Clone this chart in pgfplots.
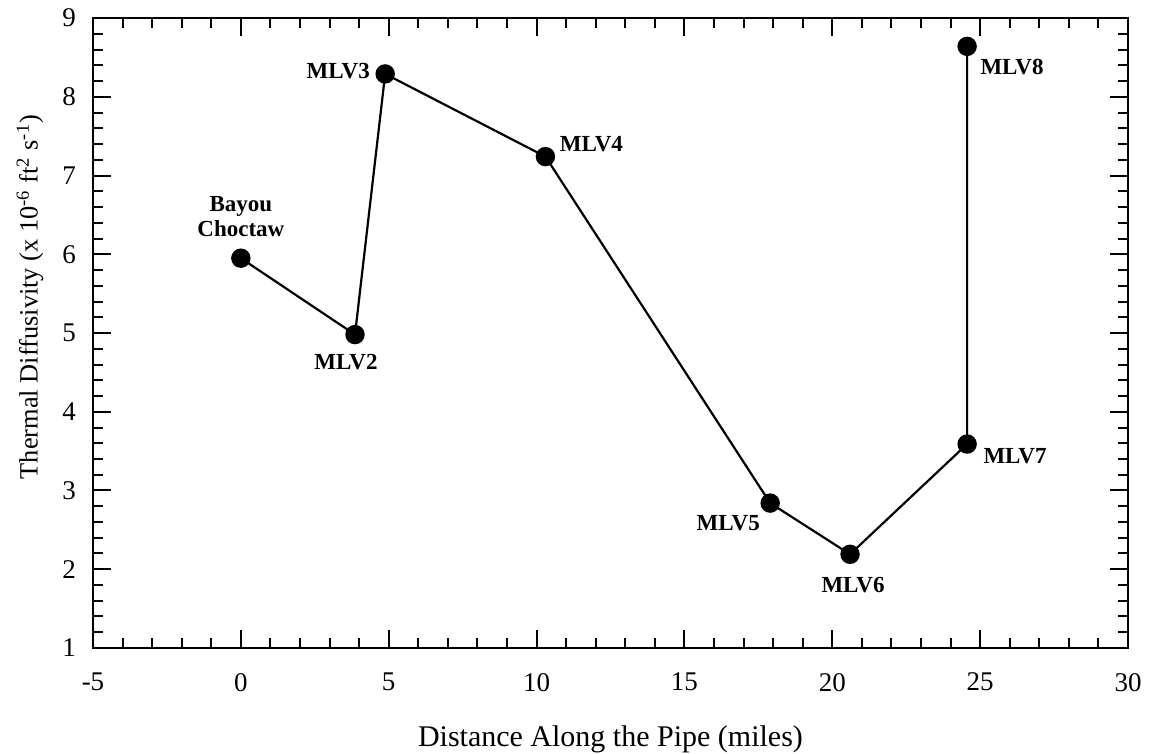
\documentclass[border=0pt]{standalone}
\usepackage{fontspec}
\setmainfont{Liberation Serif}
\usepackage{pgfplots}
\pgfplotsset{compat=1.18}
\begin{document}
\begin{tikzpicture}
\useasboundingbox (-46.5pt,-53pt) rectangle (529pt,324pt);
\begin{axis}[
  at={(0pt,0pt)}, anchor=south west,
  scale only axis, width=517.5pt, height=315pt,
  xmin=-5, xmax=30, ymin=1, ymax=9,
  xtick={-5,0,5,10,15,20,25,30},
  xticklabels={-5,0,5,10,15,20,25,30},
  ytick={1,2,3,4,5,6,7,8,9},
  yticklabels={1,2,3,4,5,6,7,8,9},
  minor x tick num=4, minor y tick num=4,
  tick align=inside,
  major tick length=9pt, minor tick length=5pt,
  axis line style={line width=1.1pt},
  every tick/.style={black, line width=1pt},
  tick label style={font=\fontsize{13.5}{15}\selectfont},
  xticklabel style={yshift=-9pt},
  yticklabel style={xshift=-5pt},
  xlabel={Distance Along the Pipe (miles)},
  ylabel={Thermal Diffusivity (x 10\textsuperscript{-6} ft\textsuperscript{2} s\textsuperscript{-1})},
  xlabel style={font=\fontsize{15}{17}\selectfont, at={(axis description cs:0.5,-0.1556)}, anchor=base, inner sep=0pt},
  ylabel style={font=\fontsize{13.2}{15}\selectfont, at={(axis description cs:-0.0609,0.557)}, anchor=center, inner sep=0pt},
  clip=false,
]
\addplot[black, line width=1.1pt, mark=*, mark size=4.3pt, mark options={fill=black}]
  coordinates {(0,5.95) (3.86,4.98) (4.88,8.29) (10.3,7.24) (17.9,2.84) (20.6,2.19) (24.56,3.59) (24.56,8.64)};
\begin{scope}[every node/.style={font=\bfseries\fontsize{11.5}{12.5}\selectfont, inner sep=0pt}]
\node[anchor=south, align=center, yshift=10.5pt] at (axis cs:0,5.95) {Bayou\\Choctaw};
\node[anchor=north, xshift=-4.5pt, yshift=-9.5pt] at (axis cs:3.86,4.98) {MLV2};
\node[anchor=east, xshift=-7.5pt, yshift=1.5pt] at (axis cs:4.88,8.29) {MLV3};
\node[anchor=west, xshift=7pt, yshift=6.5pt] at (axis cs:10.3,7.24) {MLV4};
\node[anchor=north east, xshift=-5pt, yshift=-6pt] at (axis cs:17.9,2.84) {MLV5};
\node[anchor=north, xshift=1.5pt, yshift=-11.5pt] at (axis cs:20.6,2.19) {MLV6};
\node[anchor=west, xshift=8pt, yshift=-6pt] at (axis cs:24.56,3.59) {MLV7};
\node[anchor=west, xshift=6.5pt, yshift=-10.5pt] at (axis cs:24.56,8.64) {MLV8};
\end{scope}
\end{axis}
\end{tikzpicture}
\end{document}
